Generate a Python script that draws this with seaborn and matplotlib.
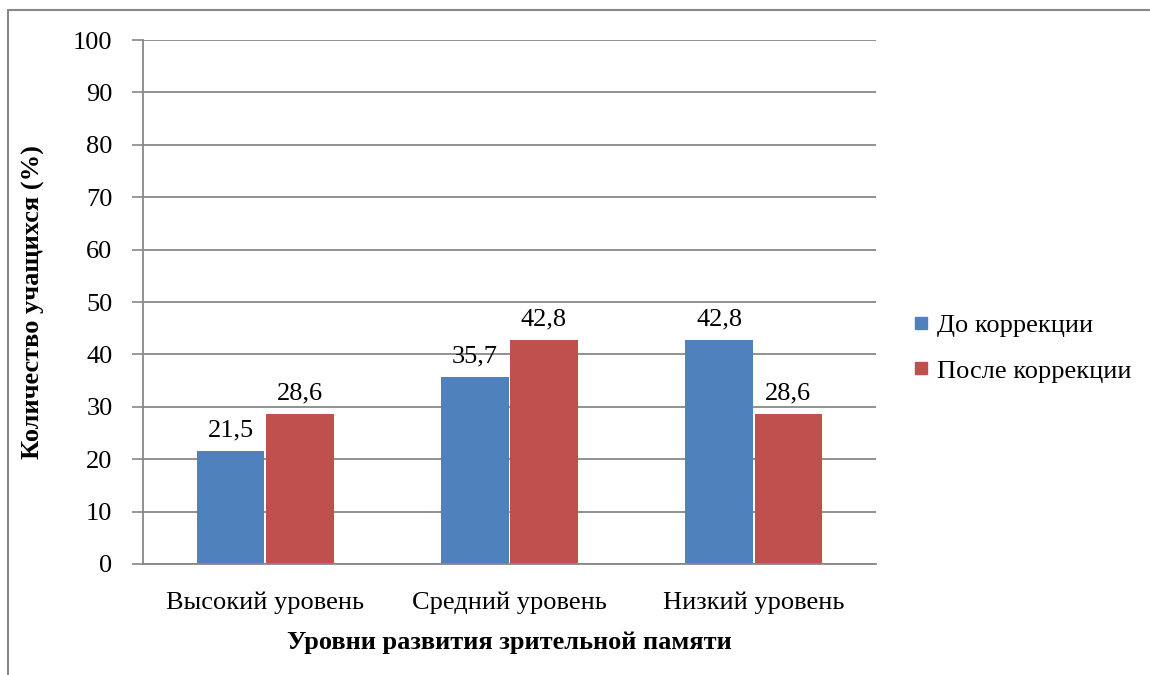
import matplotlib
matplotlib.use("Agg")
import matplotlib.pyplot as plt
from matplotlib.lines import Line2D
import seaborn as sns
import pandas as pd

levels = ["Высокий уровень", "Средний уровень", "Низкий уровень"]
series = ["До коррекции", "После коррекции"]
before = [21.5, 35.7, 42.8]
after = [28.6, 42.8, 28.6]
yticks = [0, 10, 20, 30, 40, 50, 60, 70, 80, 90, 100]

colors = ["#4F81BD", "#C0504D"]
grid_col = "#888888"
fs = 19

sns.set_theme(style="white")
plt.rcParams["font.family"] = ["Liberation Serif", "DejaVu Serif"]
plt.rcParams["text.color"] = "black"
plt.rcParams["axes.labelcolor"] = "black"
plt.rcParams["xtick.color"] = "black"
plt.rcParams["ytick.color"] = "black"

df = pd.DataFrame({
    "level": levels * 2,
    "series": [series[0]] * 3 + [series[1]] * 3,
    "value": before + after,
})

fig = plt.figure(figsize=(11.5, 6.75), dpi=100)
ax = fig.add_axes([143 / 1150, 1 - 564 / 675, (876 - 143) / 1150, (564 - 40) / 675])

sns.barplot(data=df, x="level", y="value", hue="series", hue_order=series,
            palette=colors, width=0.565, gap=0.02, saturation=1,
            edgecolor="none", ax=ax, legend=False)

ax.set_ylim(0, 100)
ax.set_yticks(yticks)
ax.set_yticklabels([str(v) for v in yticks], fontsize=fs)
ax.tick_params(axis="y", length=8, width=1.2, color=grid_col, labelcolor="black",
               pad=14, left=True)
ax.tick_params(axis="x", length=0, pad=20, labelsize=fs, labelcolor="black")
ax.yaxis.grid(True, color=grid_col, linewidth=1.3)
ax.set_axisbelow(True)
for side in ["top", "right"]:
    ax.spines[side].set_visible(False)
for side in ["left", "bottom"]:
    ax.spines[side].set_color(grid_col)
    ax.spines[side].set_linewidth(1.3)

for cont, vals in zip(ax.containers, [before, after]):
    ax.bar_label(cont, labels=[f"{v:.1f}".replace(".", ",") for v in vals],
                 padding=7, fontsize=fs, color="black")

ax.set_xlabel("Уровни развития зрительной памяти", fontsize=fs,
              fontweight="bold", labelpad=12, color="black")
ax.set_ylabel("Количество учащихся (%)", fontsize=fs, fontweight="bold",
              labelpad=20, color="black")

handles = [Line2D([], [], marker="s", linestyle="none", markersize=9,
                  markerfacecolor=c, markeredgecolor=c) for c in colors]
fig.legend(handles, series, loc="center left",
           bbox_to_anchor=(884 / 1150, 1 - 348 / 675), frameon=False,
           fontsize=fs, handletextpad=0.1, labelspacing=0.85,
           handlelength=1.0, labelcolor="black")

# outer chart frame
fig.add_artist(Line2D([8 / 1150, 1.0], [1 - 10 / 675, 1 - 10 / 675],
                      transform=fig.transFigure, color=grid_col, linewidth=1.5))
fig.add_artist(Line2D([8 / 1150, 8 / 1150], [1 - 10 / 675, 0],
                      transform=fig.transFigure, color=grid_col, linewidth=1.5))

fig.savefig("out.png", dpi=100)
